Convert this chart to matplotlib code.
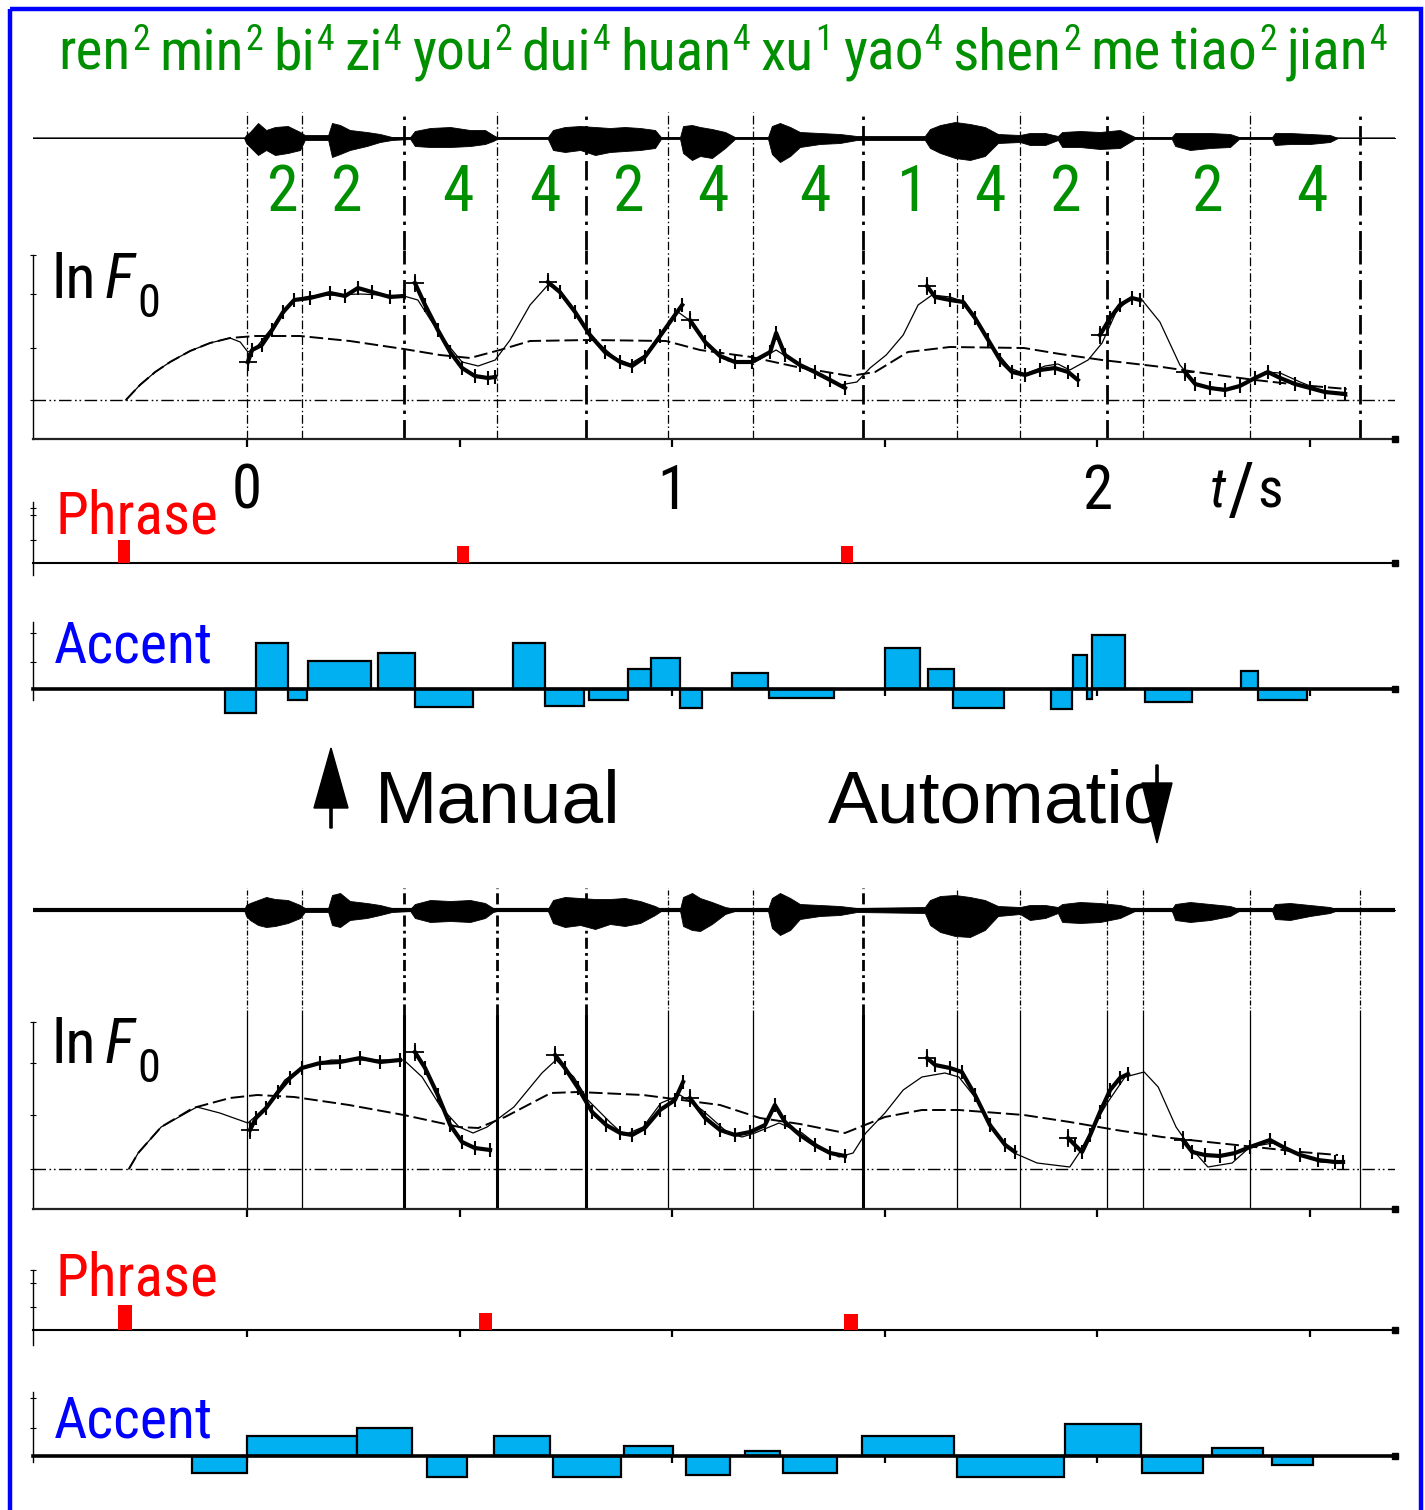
import os
import matplotlib
matplotlib.use('Agg')
import matplotlib.pyplot as plt
from matplotlib import font_manager as fm
from matplotlib.font_manager import FontProperties
from matplotlib.patches import Rectangle, FancyArrow

# ---------------- fonts ----------------
PREF = ['Liberation Sans Narrow', 'Arial Narrow', 'Nimbus Sans Narrow', 'Roboto Condensed',
        'Open Sans Condensed', 'Noto Sans', 'DejaVu Sans', 'Open Sans', 'Lato', 'Inter']


def _w(f):
    w = f.weight
    if isinstance(w, str):
        w = fm.weight_dict.get(w, 400)
    return w


def find_narrow(italic, prefer_name=None):
    cands = []
    for f in fm.fontManager.ttflist:
        base = os.path.basename(f.fname)
        narrow = ('Narrow' in f.name or 'Condensed' in f.name or 'Narrow' in base or 'Condensed' in base
                  or f.stretch in ('condensed', 'semi-condensed', 'extra-condensed'))
        if not narrow or 'Mono' in f.name or 'Serif' in f.name or 'Mono' in base:
            continue
        if 'SemiCondensed' in base or 'ExtraCondensed' in base:
            continue
        if not (350 <= _w(f) <= 500):
            continue
        if (f.style in ('italic', 'oblique')) != italic:
            continue
        cands.append(f)
    if not cands:
        return None

    def key(f):
        if prefer_name and f.name == prefer_name:
            return -1
        return PREF.index(f.name) if f.name in PREF else len(PREF)
    cands.sort(key=key)
    return cands[0]


_nr = find_narrow(False)
_ni = find_narrow(True, _nr.name if _nr else None)
NFP = FontProperties(fname=_nr.fname) if _nr else FontProperties(family='Liberation Sans')
NFI = FontProperties(fname=_ni.fname) if _ni else FontProperties(family='Liberation Sans', style='italic')
REG = FontProperties(family='Liberation Sans')

GREEN = '#008f00'
ACC = '#00b0f0'

# ---------------- data ----------------
syllables = ['ren', 'min', 'bi', 'zi', 'you', 'dui', 'huan', 'xu', 'yao', 'shen', 'me', 'tiao', 'jian']
syl_tones = ['2', '2', '4', '4', '2', '4', '4', '1', '4', '2', '', '2', '4']
tone_digits = [2, 2, 4, 4, 2, 4, 4, 1, 4, 2, 2, 4]
tone_t = [0.085, 0.235, 0.496, 0.701, 0.899, 1.096, 1.336, 1.567, 1.748, 1.927, 2.261, 2.506]

bound_t = [0.0, 0.129, 0.369, 0.588, 0.798, 0.991, 1.191, 1.449, 1.671, 1.819, 2.024, 2.108, 2.360, 2.619]
bound_thick_top = [0.369, 0.798, 1.449, 2.024, 2.619]
bound_thick_bot = [0.369, 0.588, 0.798, 1.449]

xtick_major = [0, 1, 2]
xtick_labels = ['0', '1', '2']
xtick_minor = [0.5, 1.5, 2.5]

# waveform envelopes (time s, upper, lower amplitude)
wave_t = [-0.504, -0.007, -0.002, 0.007, 0.026, 0.045, 0.066, 0.096, 0.125, 0.136, 0.191, 0.200, 0.219,
          0.242, 0.282, 0.313, 0.341, 0.384, 0.395, 0.431, 0.478, 0.525, 0.560, 0.579, 0.588, 0.708,
          0.720, 0.748, 0.784, 0.819, 0.854, 0.889, 0.925, 0.960, 0.974, 1.019, 1.026, 1.047, 1.066,
          1.094, 1.125, 1.148, 1.226, 1.235, 1.254, 1.278, 1.301, 1.348, 1.395, 1.435, 1.595, 1.607,
          1.631, 1.666, 1.701, 1.736, 1.767, 1.819, 1.842, 1.878, 1.908, 1.918, 1.960, 2.007, 2.054,
          2.089, 2.176, 2.184, 2.219, 2.266, 2.313, 2.334, 2.412, 2.419, 2.454, 2.501, 2.548, 2.567, 2.701]
waveA_hi = [0, 0, 0.3, 0.6, 1.5, 0.8, 1.1, 1.2, 0.6, 0.3, 0.3, 1.5, 1.3,
            0.8, 0.6, 0.4, 0.1, 0.1, 0.7, 1.0, 1.1, 0.8, 0.8, 0.3, 0.1, 0.1,
            0.8, 1.1, 1.2, 1.1, 1.0, 1.1, 1.0, 0.8, 0.1, 0.1, 1.2, 1.3, 1.1,
            0.9, 0.6, 0.1, 0.1, 1.2, 1.5, 1.1, 0.6, 0.5, 0.4, 0.2, 0.2, 0.9,
            1.3, 1.6, 1.4, 1.1, 0.4, 0.3, 0.5, 0.5, 0.2, 0.6, 0.7, 0.6, 0.8,
            0.1, 0.1, 0.5, 0.5, 0.5, 0.4, 0.1, 0.1, 0.5, 0.5, 0.4, 0.3, 0, 0]
waveA_lo = [0, 0, -0.5, -0.9, -1.7, -1.2, -1.7, -1.5, -1.2, -0.2, -0.2, -1.9, -1.6,
            -1.2, -0.8, -0.4, -0.2, -0.1, -0.8, -0.9, -0.9, -0.8, -0.6, -0.3, -0.1, -0.1,
            -1.2, -1.4, -1.2, -1.7, -1.4, -1.3, -1.2, -1.0, -0.1, -0.1, -1.5, -2.2, -1.8,
            -2.0, -1.0, -0.1, -0.1, -1.6, -2.4, -1.8, -0.9, -0.6, -0.5, -0.2, -0.2, -1.0,
            -1.5, -2.0, -2.2, -1.8, -0.5, -0.4, -0.7, -0.7, -0.2, -0.9, -0.9, -1.1, -1.0,
            -0.1, -0.1, -0.8, -1.2, -1.0, -0.9, -0.1, -0.1, -0.7, -0.6, -0.6, -0.4, 0, 0]
waveB_hi = [0, 0, 0.5, 0.7, 1.0, 1.3, 1.1, 1.0, 0.5, 0.2, 0.2, 1.5, 1.7,
            0.9, 0.7, 0.5, 0.2, 0.1, 0.6, 1.0, 0.9, 1.0, 0.7, 0.2, 0.1, 0.1,
            1.0, 1.3, 1.2, 1.1, 1.1, 1.2, 0.9, 0.4, 0.1, 0.1, 1.3, 1.7, 1.2,
            0.8, 0.3, 0.1, 0.1, 1.2, 1.7, 1.2, 0.6, 0.5, 0.4, 0.2, 0.3, 1.0,
            1.4, 1.5, 1.3, 1.0, 0.4, 0.3, 0.5, 0.5, 0.3, 0.6, 0.8, 0.7, 0.5,
            0.1, 0.1, 0.6, 0.8, 0.6, 0.4, 0.1, 0.1, 0.6, 0.7, 0.5, 0.3, 0, 0]
waveB_lo = [0, 0, -0.6, -1.0, -1.5, -1.7, -1.6, -1.3, -0.8, -0.2, -0.2, -1.5, -1.7,
            -1.0, -0.8, -0.5, -0.2, -0.1, -0.8, -1.2, -1.1, -1.2, -0.8, -0.2, -0.1, -0.1,
            -1.3, -1.7, -1.5, -1.9, -1.4, -1.6, -1.3, -0.5, -0.1, -0.1, -1.6, -2.0, -2.1,
            -1.4, -0.4, -0.1, -0.1, -1.8, -2.5, -2.0, -0.9, -0.6, -0.5, -0.2, -0.3, -1.5,
            -2.2, -2.6, -2.7, -2.0, -0.6, -0.4, -1.0, -0.8, -0.3, -1.2, -1.3, -1.2, -0.8,
            -0.1, -0.1, -1.0, -1.2, -1.0, -0.6, -0.1, -0.1, -0.9, -1.0, -0.6, -0.3, 0, 0]

# ---- top (manual) ln F0 : phrase component, model contour, observed ----
phA_t = [-0.285, -0.252, -0.216, -0.181, -0.134, -0.087, -0.040, 0.019, 0.125, 0.242, 0.369, 0.454, 0.525,
         0.595, 0.666, 0.807, 0.986, 1.066, 1.186, 1.294, 1.419, 1.478, 1.555, 1.654, 1.828, 1.913, 2.012,
         2.153, 2.266, 2.372, 2.478, 2.588]
phA_v = [0.00, 0.15, 0.28, 0.38, 0.49, 0.57, 0.62, 0.64, 0.64, 0.59, 0.51, 0.45, 0.42,
         0.50, 0.59, 0.60, 0.59, 0.50, 0.43, 0.33, 0.24, 0.28, 0.48, 0.53, 0.52, 0.46, 0.40,
         0.33, 0.26, 0.20, 0.15, 0.11]
modA_t = [-0.285, -0.252, -0.216, -0.181, -0.134, -0.087, -0.040, -0.016, 0.002, 0.021, 0.045, 0.078, 0.111,
          0.148, 0.266, 0.369, 0.402, 0.435, 0.473, 0.506, 0.544, 0.584, 0.619, 0.666, 0.708, 0.736, 0.779,
          0.819, 0.866, 0.901, 0.936, 0.976, 1.014, 1.047, 1.085, 1.132, 1.195, 1.245, 1.289, 1.348, 1.395,
          1.435, 1.466, 1.504, 1.544, 1.579, 1.612, 1.654, 1.689, 1.725, 1.760, 1.795, 1.831, 1.878, 1.908,
          1.936, 1.979, 2.012, 2.045, 2.078, 2.106, 2.148, 2.195, 2.238, 2.313, 2.360, 2.395, 2.431, 2.478,
          2.525, 2.588]
modA_v = [0.00, 0.15, 0.28, 0.38, 0.49, 0.57, 0.62, 0.58, 0.48, 0.52, 0.65, 0.82, 1.00,
          1.04, 1.06, 1.04, 1.00, 0.78, 0.55, 0.38, 0.34, 0.40, 0.60, 0.95, 1.15, 1.10, 0.82,
          0.60, 0.42, 0.36, 0.45, 0.67, 0.88, 0.78, 0.55, 0.39, 0.38, 0.50, 0.38, 0.24, 0.15,
          0.18, 0.32, 0.45, 0.65, 0.95, 1.05, 1.03, 0.98, 0.75, 0.50, 0.32, 0.26, 0.34, 0.36,
          0.30, 0.40, 0.57, 0.88, 1.02, 1.00, 0.78, 0.35, 0.14, 0.11, 0.19, 0.28, 0.27, 0.18,
          0.10, 0.04]
obsA_t = [[0.002, 0.012, 0.035, 0.059, 0.085, 0.111, 0.148, 0.195, 0.231, 0.261, 0.294, 0.336, 0.369],
          [0.395, 0.419, 0.449, 0.478, 0.506, 0.536, 0.567, 0.584],
          [0.708, 0.736, 0.772, 0.807, 0.842, 0.878, 0.906, 0.936, 0.972, 1.007, 1.024],
          [1.042, 1.078, 1.113, 1.148, 1.188, 1.231, 1.245, 1.266, 1.301, 1.336, 1.372, 1.407],
          [1.600, 1.619, 1.654, 1.685, 1.713, 1.744, 1.772, 1.800, 1.831, 1.866, 1.901, 1.932, 1.955],
          [2.007, 2.031, 2.054, 2.082, 2.101],
          [2.207, 2.231, 2.266, 2.301, 2.336, 2.372, 2.402, 2.431, 2.466, 2.501, 2.536, 2.584]]
obsA_v = [[0.38, 0.50, 0.55, 0.70, 0.88, 1.00, 1.02, 1.07, 1.04, 1.12, 1.08, 1.03, 1.04],
          [1.17, 0.95, 0.70, 0.48, 0.32, 0.24, 0.22, 0.23],
          [1.18, 1.08, 0.88, 0.65, 0.48, 0.38, 0.34, 0.43, 0.64, 0.85, 0.95],
          [0.80, 0.58, 0.44, 0.38, 0.38, 0.48, 0.67, 0.45, 0.35, 0.28, 0.20, 0.12],
          [1.14, 1.03, 1.00, 0.98, 0.82, 0.60, 0.40, 0.28, 0.25, 0.30, 0.32, 0.28, 0.20],
          [0.65, 0.82, 0.95, 1.02, 1.00],
          [0.28, 0.16, 0.12, 0.10, 0.14, 0.22, 0.28, 0.22, 0.16, 0.12, 0.08, 0.06]]

# ---- bottom (automatic) ln F0 ----
phB_t = [-0.278, -0.256, -0.202, -0.127, -0.040, 0.024, 0.111, 0.240, 0.369, 0.499, 0.544, 0.607, 0.715,
         0.779, 0.932, 1.113, 1.207, 1.301, 1.407, 1.501, 1.588, 1.675, 1.828, 1.936, 2.045, 2.153,
         2.261, 2.372, 2.480, 2.567]
phB_v = [0.00, 0.16, 0.42, 0.61, 0.71, 0.74, 0.72, 0.64, 0.54, 0.42, 0.41, 0.52, 0.76,
         0.77, 0.74, 0.64, 0.51, 0.45, 0.36, 0.52, 0.59, 0.59, 0.54, 0.47, 0.39, 0.32,
         0.27, 0.22, 0.17, 0.14]
modB_t = [-0.278, -0.256, -0.202, -0.118, -0.064, 0.002, 0.045, 0.089, 0.132, 0.198, 0.369, 0.412, 0.456,
          0.499, 0.532, 0.565, 0.628, 0.694, 0.727, 0.769, 0.802, 0.856, 0.887, 0.932, 0.974, 1.019,
          1.071, 1.132, 1.165, 1.195, 1.252, 1.306, 1.348, 1.393, 1.426, 1.456, 1.501, 1.544, 1.588,
          1.642, 1.675, 1.718, 1.762, 1.805, 1.859, 1.936, 1.958, 1.991, 2.024, 2.066, 2.111, 2.144,
          2.186, 2.219, 2.261, 2.318, 2.360, 2.414, 2.468, 2.525, 2.579]
modB_v = [0.00, 0.16, 0.42, 0.62, 0.56, 0.46, 0.62, 0.89, 1.02, 1.09, 1.09, 0.92, 0.62,
          0.42, 0.36, 0.42, 0.62, 0.96, 1.09, 0.92, 0.69, 0.46, 0.34, 0.42, 0.66, 0.74,
          0.59, 0.36, 0.32, 0.36, 0.46, 0.36, 0.22, 0.12, 0.16, 0.36, 0.56, 0.79, 0.92,
          0.96, 0.92, 0.69, 0.36, 0.16, 0.06, 0.02, 0.16, 0.42, 0.66, 0.92, 0.97, 0.82,
          0.42, 0.22, 0.02, 0.06, 0.22, 0.26, 0.16, 0.07, 0.06]
obsB_t = [[0.007, 0.021, 0.045, 0.073, 0.101, 0.129, 0.172, 0.219, 0.266, 0.313, 0.360],
          [0.395, 0.419, 0.449, 0.478, 0.506, 0.536, 0.572],
          [0.725, 0.748, 0.779, 0.812, 0.845, 0.878, 0.906, 0.936, 0.972, 1.007, 1.026],
          [1.042, 1.078, 1.113, 1.148, 1.184, 1.219, 1.242, 1.266, 1.301, 1.336, 1.372, 1.407],
          [1.600, 1.619, 1.654, 1.682, 1.713, 1.748, 1.784, 1.807],
          [1.932, 1.948, 1.965, 1.984, 2.007, 2.031, 2.054, 2.073],
          [2.202, 2.224, 2.254, 2.289, 2.325, 2.360, 2.407, 2.442, 2.478, 2.520, 2.560, 2.579]]
obsB_v = [[0.39, 0.51, 0.61, 0.77, 0.91, 1.01, 1.06, 1.07, 1.11, 1.07, 1.09],
          [1.17, 1.01, 0.74, 0.44, 0.27, 0.21, 0.19],
          [1.14, 1.01, 0.81, 0.57, 0.44, 0.36, 0.34, 0.41, 0.59, 0.69, 0.87],
          [0.71, 0.51, 0.39, 0.34, 0.37, 0.44, 0.64, 0.47, 0.34, 0.24, 0.16, 0.13],
          [1.11, 1.04, 1.01, 0.97, 0.74, 0.44, 0.24, 0.17],
          [0.31, 0.24, 0.17, 0.34, 0.57, 0.79, 0.91, 0.95],
          [0.29, 0.17, 0.14, 0.13, 0.16, 0.22, 0.29, 0.21, 0.14, 0.09, 0.07, 0.07]]

# ---- phrase commands (time, magnitude) ----
phraseA_t = [-0.289, 0.508, 1.412]
phraseA_a = [0.46, 0.34, 0.34]
phraseB_t = [-0.287, 0.562, 1.421]
phraseB_a = [0.50, 0.34, 0.32]

# ---- accent commands (onset, offset, amplitude) ----
accA_t0 = [-0.052, 0.021, 0.096, 0.144, 0.308, 0.395, 0.626, 0.701, 0.805, 0.896, 0.951, 1.019, 1.141, 1.228,
           1.501, 1.602, 1.661, 1.892, 1.944, 1.976, 1.988, 2.113, 2.339, 2.379]
accA_t1 = [0.021, 0.096, 0.141, 0.292, 0.395, 0.532, 0.701, 0.793, 0.896, 0.951, 1.019, 1.071, 1.226, 1.381,
           1.584, 1.664, 1.781, 1.941, 1.976, 1.988, 2.066, 2.224, 2.379, 2.494]
accA_a = [-0.48, 0.92, -0.22, 0.56, 0.72, -0.36, 0.92, -0.34, -0.22, 0.40, 0.62, -0.38, 0.32, -0.18,
          0.82, 0.40, -0.38, -0.40, 0.68, -0.20, 1.08, -0.26, 0.36, -0.22]
accB_t0 = [-0.129, 0.000, 0.259, 0.424, 0.581, 0.720, 0.887, 1.033, 1.172, 1.261, 1.447, 1.671, 1.925,
           2.106, 2.271, 2.412]
accB_t1 = [0.000, 0.259, 0.388, 0.518, 0.713, 0.880, 1.002, 1.136, 1.254, 1.388, 1.664, 1.922, 2.104,
           2.249, 2.391, 2.508]
accB_a = [-0.34, 0.40, 0.56, -0.42, 0.40, -0.42, 0.20, -0.38, 0.10, -0.34, 0.40, -0.42, 0.64,
          -0.34, 0.16, -0.18]

# ---------------- figure ----------------
W, H = 1425, 1510
fig = plt.figure(figsize=(W / 100, H / 100), dpi=100)
R = fig.canvas.get_renderer()
PX = 100 / 72
XL, XR = 33, 1395
XMIN, XMAX = (XL - 247) / 425, (XR - 247) / 425


def fx(x):
    return x / W


def fy(y):
    return 1 - y / H


def mk(y_top, y_bot, ylim):
    ax = fig.add_axes([XL / W, 1 - y_bot / H, (XR - XL) / W, (y_bot - y_top) / H])
    ax.set_xlim(XMIN, XMAX)
    ax.set_ylim(*ylim)
    ax.patch.set_alpha(0)
    for s in ax.spines.values():
        s.set_visible(False)
    ax.set_xticks([])
    ax.set_yticks([])
    return ax


DD = (0, (7, 2.2, 1.2, 2.2))
BASE = (0, (9, 2.5, 1.2, 2, 1.2, 2.5))


def end_dot(ax, y):
    ax.plot([XMAX], [y], marker='s', ms=4, color='k', clip_on=False, zorder=5)


def f0_axes(y_top, y_bot, ylim, spine_top, yticks, bottom_labels):
    ax = mk(y_top, y_bot, ylim)
    ax.spines['left'].set_visible(True)
    ax.spines['left'].set_bounds(ylim[0], spine_top)
    ax.spines['left'].set_linewidth(1.0)
    ax.spines['bottom'].set_visible(True)
    ax.spines['bottom'].set_linewidth(1.6)
    ax.spines['bottom'].set_color('#222222')
    ax.set_yticks(yticks)
    ax.tick_params(axis='y', direction='inout', length=5, width=0.8, labelleft=False)
    ax.set_xticks(xtick_major, labels=xtick_labels)
    ax.set_xticks(xtick_minor, minor=True)
    ax.tick_params(axis='x', which='both', direction='out', length=6, width=1.6,
                   labelsize=42, pad=11, labelbottom=bottom_labels)
    for lab in ax.get_xticklabels():
        lab.set_fontproperties(NFP)
        lab.set_fontsize(44)
    ax.axhline(0, color='k', lw=1.0, ls=BASE, zorder=1)
    end_dot(ax, ylim[0])
    return ax


def draw_f0(ax, ph_t, ph_v, mod_t, mod_v, obs_t, obs_v):
    ax.plot(ph_t, ph_v, color='k', lw=1.4, dashes=(7, 2.5), zorder=3)
    ax.plot(mod_t, mod_v, color='k', lw=0.9, zorder=3)
    for st, sv in zip(obs_t, obs_v):
        ax.plot(st, sv, color='k', lw=3.0, marker='|', ms=10, mew=1.5, zorder=4)
        ax.plot(st[:1], sv[:1], color='k', lw=0, marker='+', ms=13, mew=1.3, zorder=4)


def cmd_axes(y_top, y_bot, ylim, spine_bounds, yticks, lw0, xticks):
    ax = mk(y_top, y_bot, ylim)
    ax.spines['left'].set_visible(True)
    ax.spines['left'].set_bounds(*spine_bounds)
    ax.spines['left'].set_linewidth(1.0)
    ax.spines['bottom'].set_visible(True)
    ax.spines['bottom'].set_position(('data', 0))
    ax.spines['bottom'].set_linewidth(lw0)
    ax.set_yticks(yticks)
    ax.tick_params(axis='y', direction='inout', length=4, width=0.8, labelleft=False)
    if xticks:
        ax.set_xticks([0, 0.5, 1.0, 1.5, 2.0, 2.5])
        ax.tick_params(axis='x', direction='out', length=5, width=1.6, labelbottom=False)
    end_dot(ax, 0)
    return ax


# ---- top waveform ----
axwA = mk(108, 250, (-11.2, 3.0))
axwA.axhline(0, color='#333333', lw=1.1, zorder=2)
axwA.fill_between(wave_t, waveA_hi, waveA_lo, color='k', lw=0.6, edgecolor='k', zorder=3)
for b in bound_t:
    thick = b in bound_thick_top
    axwA.axvline(b, ymin=0, ymax=(250 - 112) / 142, color='k', lw=2.0 if thick else 0.9, ls=DD, zorder=1)
for t, d in zip(tone_t, tone_digits):
    axwA.text(t, -7.3, str(d), ha='center', va='baseline', fontproperties=NFP, fontsize=46, color=GREEN)

# ---- top ln F0 ----
axfA = f0_axes(250, 439, (-0.39, 1.50), 1.45, [0.0, 0.52, 1.06, 1.45], True)
for b in bound_t:
    thick = b in bound_thick_top
    axfA.axvline(b, color='k', lw=2.0 if thick else 0.9, ls=DD, zorder=1)
draw_f0(axfA, phA_t, phA_v, modA_t, modA_v, obsA_t, obsA_v)

# ---- top phrase / accent ----
axpA = cmd_axes(495, 575, (-0.24, 1.36), (-0.24, 1.22), [0.46, 0.96, 1.10], 1.5, False)
axpA.bar(phraseA_t, phraseA_a, width=0.028, color='#ff0000', edgecolor='none', zorder=3)
axaA = cmd_axes(615, 720, (-0.62, 1.48), (-0.22, 1.34), [0.54, 1.12], 2.6, True)
axaA.bar(accA_t0, accA_a, width=[b - a for a, b in zip(accA_t0, accA_t1)], align='edge',
         color=ACC, edgecolor='k', lw=1.6, zorder=2)

# ---- bottom waveform ----
axwB = mk(880, 1015, (-10.5, 3.0))
axwB.axhline(0, color='k', lw=3.0, zorder=2)
axwB.fill_between(wave_t, waveB_hi, waveB_lo, color='k', lw=0.6, edgecolor='k', zorder=3)
for b in bound_t:
    thick = b in bound_thick_bot
    axwB.axvline(b, ymin=0, ymax=(1015 - 888) / 135, color='k', lw=2.0 if thick else 0.9,
                 ls=(0, (4, 1.5, 1, 1.5)), zorder=1)

# ---- bottom ln F0 ----
axfB = f0_axes(1015, 1209, (-0.40, 1.54), 1.47, [0.0, 0.54, 1.06, 1.47], False)
for b in bound_t:
    thick = b in bound_thick_bot
    axfB.axvline(b, color='k', lw=2.2 if thick else 0.9, zorder=1)
draw_f0(axfB, phB_t, phB_v, modB_t, modB_v, obsB_t, obsB_v)

# ---- bottom phrase / accent ----
axpB = cmd_axes(1260, 1350, (-0.40, 1.40), (-0.30, 1.20), [0.46, 0.94, 1.20], 1.5, True)
axpB.bar(phraseB_t, phraseB_a, width=0.031, color='#ff0000', edgecolor='none', zorder=3)
axaB = cmd_axes(1380, 1490, (-0.68, 1.52), (-0.12, 1.28), [0.56, 1.16], 2.6, True)
axaB.bar(accB_t0, accB_a, width=[b - a for a, b in zip(accB_t0, accB_t1)], align='edge',
         color=ACC, edgecolor='k', lw=1.6, zorder=2)


# ---------------- texts (runs of pieces, fitted to the reference widths) ----------------
def _tw(s, fp, size):
    t = fig.text(0, 0, s, fontproperties=fp, fontsize=size)
    w = t.get_window_extent(R).width
    t.remove()
    return w


def run_text(pieces, x0, ybase, size, color, target_w=None):
    # pieces: (string, fontprops, relative size, raise in em, gap after in em)
    def total(sz):
        return sum(_tw(s, fp, sz * rel) + gap * sz * PX for s, fp, rel, dy, gap in pieces) \
            - pieces[-1][4] * sz * PX
    if target_w:
        for _ in range(2):
            size = size * target_w / total(size)
    x = x0
    for s, fp, rel, dy, gap in pieces:
        fig.text(fx(x), fy(ybase - dy * size * PX), s, fontproperties=fp, fontsize=size * rel,
                 color=color, ha='left', va='baseline')
        x += _tw(s, fp, size * rel) + gap * size * PX


title_pieces = []
for s, t in zip(syllables, syl_tones):
    if t:
        title_pieces.append((s, NFP, 1.0, 0.0, 0.03))
        title_pieces.append((t, NFP, 0.62, 0.34, 0.17))
    else:
        title_pieces.append((s, NFP, 1.0, 0.0, 0.17))
run_text(title_pieces, 58, 70, 42, GREEN, target_w=1330)

lnf0 = [('ln', NFP, 1.0, 0.0, 0.12), ('F', NFI, 1.0, 0.0, 0.06), ('0', NFP, 0.74, -0.31, 0.0)]
run_text(lnf0, 52, 298, 45, 'k', target_w=108)
run_text(lnf0, 52, 1063, 45, 'k', target_w=108)
run_text([('t', NFI, 1.0, 0.0, 0.03), ('/', NFP, 1.3, -0.12, 0.05), ('s', NFP, 1.0, 0.0, 0.0)],
         1210, 507, 42, 'k', target_w=73)

run_text([('Phrase', NFP, 1.0, 0.0, 0.0)], 55, 533, 44, '#ff0000', target_w=163)
run_text([('Accent', NFP, 1.0, 0.0, 0.0)], 54, 662, 44, '#0000ff', target_w=159)
run_text([('Phrase', NFP, 1.0, 0.0, 0.0)], 55, 1295, 44, '#ff0000', target_w=163)
run_text([('Accent', NFP, 1.0, 0.0, 0.0)], 54, 1438, 44, '#0000ff', target_w=159)

fig.text(fx(375), fy(822), 'Manual', ha='left', va='baseline', fontsize=54, color='k', fontproperties=REG)
fig.text(fx(828), fy(822), 'Automatic', ha='left', va='baseline', fontsize=54, color='k', fontproperties=REG)

# overlay for arrows and frame
ov = fig.add_axes([0, 0, 1, 1])
ov.set_xlim(0, W)
ov.set_ylim(H, 0)
ov.axis('off')
ov.add_patch(FancyArrow(331, 828, 0, -80, width=2.2, head_width=34, head_length=60,
                        length_includes_head=True, color='k'))
ov.add_patch(FancyArrow(1157, 765, 0, 78, width=2.2, head_width=30, head_length=60,
                        length_includes_head=True, color='k'))
ov.add_patch(Rectangle((10.5, 9), 1410.5, 1530, fill=False, edgecolor='#0000ff', lw=3.2))

fig.savefig('out.png', dpi=100)
